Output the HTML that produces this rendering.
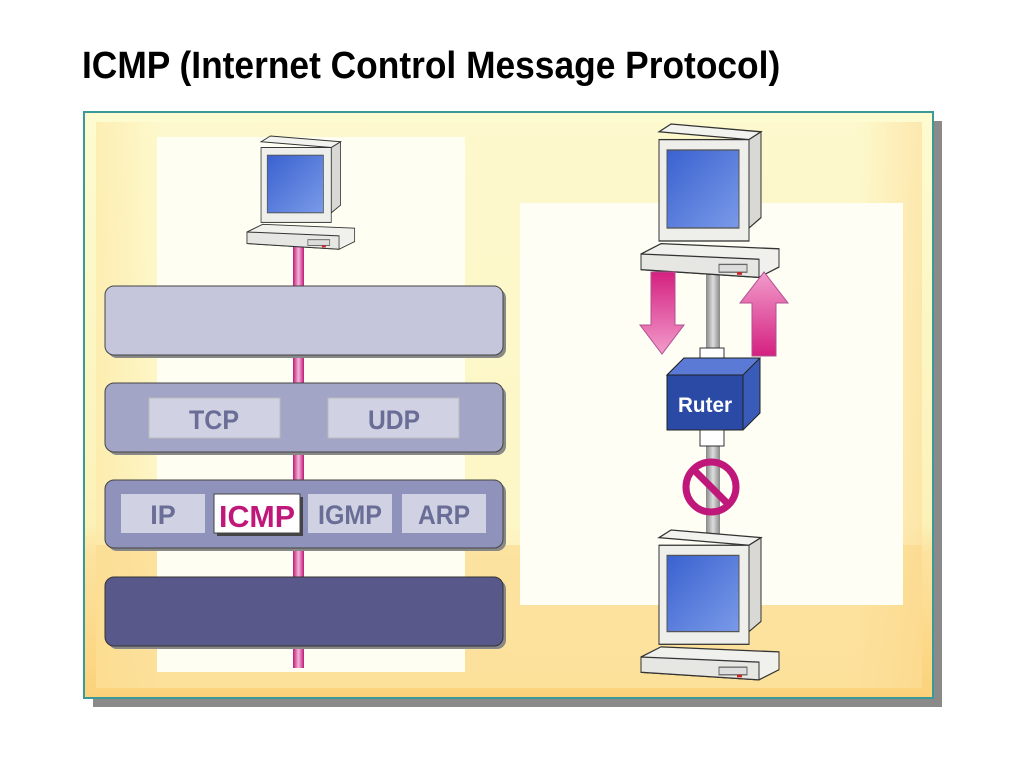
<!DOCTYPE html>
<html><head><meta charset="utf-8"><style>
body{margin:0;width:1024px;height:768px;background:#fff;overflow:hidden;font-family:"Liberation Sans",sans-serif}
</style></head><body>
<svg width="1024" height="768" viewBox="0 0 1024 768" xmlns="http://www.w3.org/2000/svg" font-family="Liberation Sans, sans-serif">
<defs>
<linearGradient id="bg" x1="0" y1="0" x2="0" y2="1">
<stop offset="0" stop-color="#fdfbd0"/><stop offset="0.7" stop-color="#fcf2b8"/><stop offset="0.75" stop-color="#fde3a0"/><stop offset="1" stop-color="#fbd27a"/></linearGradient>
<linearGradient id="bg2" x1="0" y1="0" x2="1" y2="0">
<stop offset="0" stop-color="#fde9a8"/><stop offset="0.08" stop-color="#fdf8cc"/><stop offset="0.92" stop-color="#fdf8cc"/><stop offset="1" stop-color="#fde0a0"/></linearGradient>
<linearGradient id="pink" x1="0" y1="0" x2="1" y2="0"><stop offset="0" stop-color="#c0187a"/><stop offset="0.5" stop-color="#f4b6d8"/><stop offset="1" stop-color="#c0187a"/></linearGradient>
<linearGradient id="gray" x1="0" y1="0" x2="1" y2="0"><stop offset="0" stop-color="#888"/><stop offset="0.5" stop-color="#ddd"/><stop offset="1" stop-color="#888"/></linearGradient>
<linearGradient id="arr" x1="0" y1="0" x2="0" y2="1"><stop offset="0" stop-color="#d4207f"/><stop offset="1" stop-color="#f29ccc"/></linearGradient>
<linearGradient id="arr2" x1="0" y1="1" x2="0" y2="0"><stop offset="0" stop-color="#d4207f"/><stop offset="1" stop-color="#f29ccc"/></linearGradient>
<linearGradient id="scr" x1="0" y1="0" x2="1" y2="1"><stop offset="0" stop-color="#3a62d0"/><stop offset="1" stop-color="#7a9ae8"/></linearGradient>
<g id="pc">
<polygon points="18,6 30,0 120,6 108,12" fill="#f2f2ee" stroke="#333"/>
<polygon points="108,12 120,6 120,72 108,80" fill="#d8d8d4" stroke="#333"/>
<rect x="18" y="12" width="90" height="78" fill="#eeeeea" stroke="#333"/>
<rect x="26" y="20" width="72" height="60" fill="url(#scr)" stroke="#555"/>
<polygon points="0,100 20,92 138,96 138,110 118,118 0,112" fill="#f0f0ec" stroke="#333"/>
<polygon points="0,100 118,104 118,118 0,112" fill="#e6e6e2" stroke="#333"/>
<rect x="78" y="108" width="28" height="6" fill="#ddd" stroke="#666"/>
<rect x="96" y="114" width="5" height="2" fill="#c22"/>
</g>
</defs>
<text x="82" y="78" font-size="38" font-weight="bold" fill="#000" transform="translate(82,0) scale(0.93,1) translate(-82,0)">ICMP (Internet Control Message Protocol)</text>
<rect x="93" y="121" width="849" height="586" fill="#8a8a8a"/>
<rect x="84" y="112" width="849" height="586" fill="url(#bg)" stroke="#3a9a9a" stroke-width="2"/>
<rect x="96" y="122" width="826" height="566" fill="url(#bg2)" opacity="0.7"/>
<rect x="96" y="545" width="826" height="143" fill="#fcd98a" opacity="0.6"/>
<rect x="157" y="137" width="308" height="535" fill="#fffef2"/>
<rect x="520" y="203" width="383" height="402" fill="#fffef4"/>
<!-- left stack -->
<rect x="293" y="240" width="11" height="428" fill="url(#pink)"/>
<use href="#pc" transform="translate(247,136) scale(0.78,0.96)"/>
<rect x="108" y="289" width="398" height="69" rx="9" fill="#888"/>
<rect x="105" y="286" width="398" height="69" rx="9" fill="#c5c6dc" stroke="#444"/>
<rect x="108" y="386" width="398" height="69" rx="9" fill="#888"/>
<rect x="105" y="383" width="398" height="69" rx="9" fill="#a2a5c6" stroke="#444"/>
<rect x="149" y="398" width="131" height="40" fill="#d0d2e4" stroke="#bbb"/>
<rect x="328" y="398" width="131" height="40" fill="#d0d2e4" stroke="#bbb"/>
<g font-weight="bold" fill="#6a6e96" text-anchor="middle" font-size="27">
<text x="214" y="429" textLength="50" lengthAdjust="spacingAndGlyphs">TCP</text>
<text x="394" y="429" textLength="52" lengthAdjust="spacingAndGlyphs">UDP</text>
</g>
<rect x="108" y="483" width="398" height="68" rx="9" fill="#888"/>
<rect x="105" y="480" width="398" height="68" rx="9" fill="#8f92ba" stroke="#444"/>
<rect x="121" y="494" width="84" height="39" fill="#d0d2e4"/>
<rect x="308" y="494" width="84" height="39" fill="#d0d2e4"/>
<rect x="402" y="494" width="84" height="39" fill="#d0d2e4"/>
<rect x="217" y="497" width="86" height="39" fill="#444"/>
<rect x="214" y="494" width="86" height="39" fill="#fff" stroke="#444"/>
<g font-weight="bold" fill="#6a6e96" text-anchor="middle" font-size="27">
<text x="163" y="524">IP</text>
<text x="350" y="524" textLength="64" lengthAdjust="spacingAndGlyphs">IGMP</text>
<text x="444" y="524" textLength="52" lengthAdjust="spacingAndGlyphs">ARP</text>
</g>
<text x="257" y="527" font-size="31" font-weight="bold" fill="#c0187a" text-anchor="middle" textLength="76" lengthAdjust="spacingAndGlyphs">ICMP</text>
<rect x="108" y="580" width="398" height="69" rx="9" fill="#888"/>
<rect x="105" y="577" width="398" height="69" rx="9" fill="#58588a" stroke="#333"/>
<!-- right -->
<rect x="706" y="260" width="14" height="280" fill="url(#gray)"/>
<use href="#pc" transform="translate(641,124) scale(1.0,1.3)"/>
<use href="#pc" transform="translate(641,530) scale(1.0,1.27)"/>
<polygon points="651,272 675,272 675,325 684,325 662,354 640,325 651,325" fill="url(#arr)" stroke="#b05090"/>
<polygon points="752,356 776,356 776,303 788,303 764,272 740,303 752,303" fill="url(#arr2)" stroke="#b05090"/>
<rect x="700" y="348" width="24" height="22" fill="#fff" stroke="#333"/>
<polygon points="667,375 684,358 760,358 760,413 743,430 667,430" fill="#3a5cb8" stroke="#222"/>
<polygon points="667,375 684,358 760,358 743,375" fill="#5a7ad6" stroke="#222"/>
<rect x="667" y="375" width="76" height="55" fill="#2a4aa6" stroke="#222"/>
<text x="705" y="412" font-size="21" font-weight="bold" fill="#fff" text-anchor="middle" textLength="54" lengthAdjust="spacingAndGlyphs">Ruter</text>
<rect x="700" y="430" width="24" height="16" fill="#fff" stroke="#333"/>
<circle cx="711" cy="487" r="25" fill="none" stroke="#c0187a" stroke-width="7"/>
<line x1="694" y1="470" x2="728" y2="504" stroke="#c0187a" stroke-width="7"/>
</svg>
</body></html>
